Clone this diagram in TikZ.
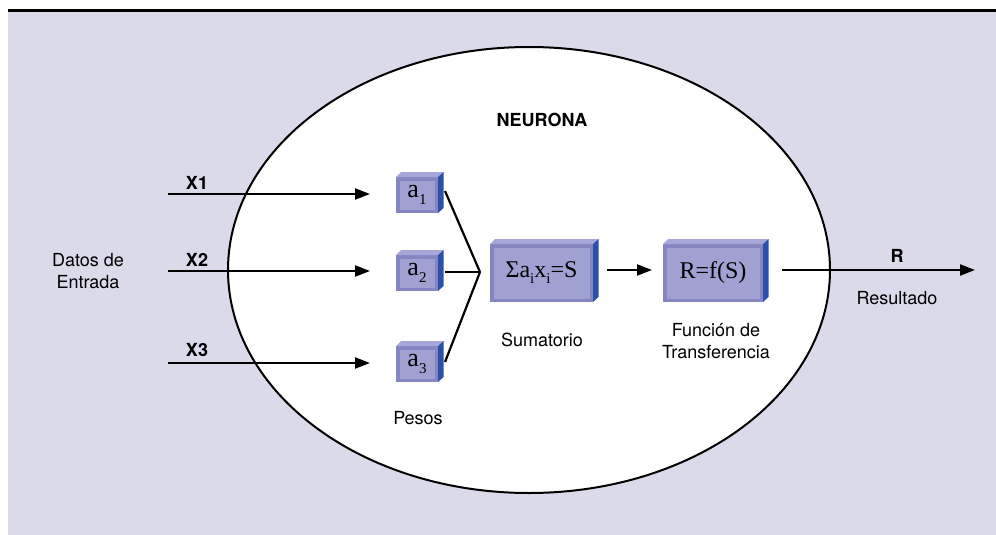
\documentclass[tikz,border=0pt]{standalone}
\usepackage{fontspec}
\setmainfont{TeX Gyre Heros}
\newfontfamily\boxfont{Liberation Serif}
\usetikzlibrary{arrows.meta}
\definecolor{bgc}{HTML}{DADAEA}
\definecolor{faceout}{HTML}{8585C2}
\definecolor{facein}{HTML}{A0A0D2}
\definecolor{topc}{HTML}{A6A6D8}
\definecolor{sidec}{HTML}{2C50A8}
\newcommand\sbx[1]{\raisebox{-0.25em}{\fontsize{15}{15}\selectfont #1}}
\tikzset{
  lbl/.style={font=\fontsize{18}{22}\selectfont, align=center, inner sep=0pt},
  blbl/.style={lbl, font=\fontsize{18}{22}\selectfont\bfseries},
  face/.style={rectangle, fill=faceout, inner sep=0pt, outer sep=0pt,
    font=\boxfont\fontsize{24}{26}\selectfont,
    path picture={\fill[facein] ([shift={(3.5pt,-3.5pt)}]path picture bounding box.north west) rectangle ([shift={(-3.5pt,3.5pt)}]path picture bounding box.south east);}},
  arr/.style={line width=2.2pt, -{Triangle[length=15pt,width=11pt]}},
  ln/.style={line width=2.2pt},
}
\newcommand\boxsides[1]{%
  \fill[topc] (#1.north west) -- ++(5pt,5pt) -- ([shift={(5pt,5pt)}]#1.north east) -- (#1.north east) -- cycle;
  \fill[sidec] (#1.north east) -- ++(5.5pt,5pt) -- ([shift={(5.5pt,5pt)}]#1.south east) -- (#1.south east) -- cycle;}
\begin{document}
\begin{tikzpicture}[x=1pt,y=-1pt]
\useasboundingbox (0,0) rectangle (996,535);
\fill[bgc] (8,12) rectangle (996,535);
\fill[black] (8,9) rectangle (996,12.5);
\draw[line width=2pt, fill=white] (529,270) ellipse [x radius=301, y radius=223];

% weight boxes
\node[face, minimum width=42pt, minimum height=36pt, font=\boxfont\fontsize{26}{26}\selectfont] (a1) at (417,195) {a\sbx{1}};
\node[face, minimum width=42pt, minimum height=36pt, font=\boxfont\fontsize{26}{26}\selectfont] (a2) at (417,273) {a\sbx{2}};
\node[face, minimum width=42pt, minimum height=36pt, font=\boxfont\fontsize{26}{26}\selectfont] (a3) at (417,364) {a\sbx{3}};
\boxsides{a1}\boxsides{a2}\boxsides{a3}

\node[face, minimum width=103pt, minimum height=58pt] (sum) at (541.5,273) {Σa\sbx{i}x\sbx{i}=S};
\node[face, minimum width=100pt, minimum height=58pt] (tf) at (713,273) {R=f(S)};
\boxsides{sum}\boxsides{tf}

% inputs
\coordinate (x1s) at (168,194);
\coordinate (x2s) at (168,271);
\coordinate (x3s) at (168,363);
\draw[arr, shorten >=26pt] (x1s) -- (x1s -| a1.west);
\draw[arr, shorten >=26pt] (x2s) -- (x2s -| a2.west);
\draw[arr, shorten >=26pt] (x3s) -- (x3s -| a3.west);

% weights to sum
\coordinate (j) at (480,272);
\draw[ln] ([xshift=7pt,yshift=4pt]a1.east) -- (j);
\draw[ln] ([xshift=7pt,yshift=1pt]a2.east) -- (j);
\draw[ln] ([xshift=7pt,yshift=2pt]a3.east) -- (j);

% sum to transfer
\draw[arr, shorten <=14pt, shorten >=11pt] ([yshift=3pt]sum.east) -- ([yshift=3pt]tf.west);
\coordinate (out) at (975,270);
\draw[arr, shorten <=19pt] (out -| tf.east) -- (out);

% labels
\node[blbl] (lx1) at (197,183) {X1};
\node[blbl] (lx2) at (197,260) {X2};
\node[blbl] (lx3) at (197,350) {X3};
\node[lbl] (datos) at (88,271) {Datos de\\Entrada};
\node[blbl] (neur) at (542,120) {NEURONA};
\node[lbl] (pesos) at (418,418) {Pesos};
\node[lbl] (sumt) at (542,340) {Sumatorio};
\node[lbl] (funt) at (716,341) {Función de\\Transferencia};
\node[blbl] (rl) at (897,256) {R};
\node[lbl] (res) at (897,298) {Resultado};
\end{tikzpicture}
\end{document}
